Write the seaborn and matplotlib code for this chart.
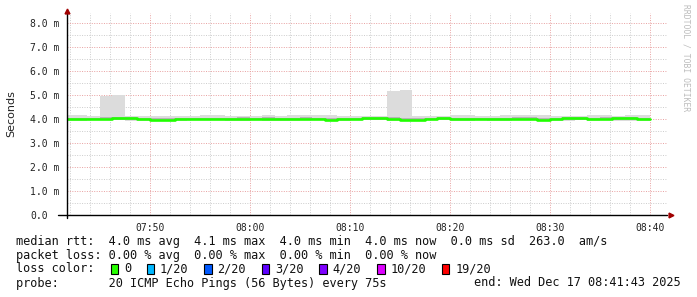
import matplotlib
matplotlib.use("Agg")
import matplotlib.pyplot as plt
import matplotlib.dates as mdates
from matplotlib.ticker import MultipleLocator
from matplotlib.patches import Rectangle
import seaborn as sns
import pandas as pd

# ---------------- data (ms, one value per 75 s step) ----------------
median_ms = [4.00, 4.00, 4.00, 4.01, 4.03, 4.03, 4.01, 3.97, 3.97, 4.00,
             4.00, 4.00, 4.01, 4.01, 4.02, 4.01, 4.02, 4.00, 4.01, 4.02,
             4.00, 3.98, 4.00, 4.01, 4.03, 4.03, 4.01, 3.97, 3.97, 4.00,
             4.03, 4.01, 4.00, 4.00, 3.99, 4.00, 4.02, 4.02, 3.97, 4.00,
             4.03, 4.03, 4.01, 4.02, 4.03, 4.03, 3.99]
smoke_hi = [4.16, 4.16, 4.12, 4.98, 5.02, 4.14, 4.14, 4.13, 4.13, 4.12,
            4.14, 4.16, 4.16, 4.14, 4.13, 4.14, 4.16, 4.14, 4.15, 4.18,
            4.18, 4.16, 4.14, 4.12, 4.14, 4.14, 5.18, 5.22, 4.14, 4.12,
            4.14, 4.16, 4.16, 4.14, 4.12, 4.15, 4.18, 4.18, 4.16, 4.12,
            4.14, 4.14, 4.16, 4.16, 4.14, 4.15, 4.15]
smoke_lo = [3.93, 3.93, 3.94, 3.95, 3.94, 3.91, 3.92, 3.93, 3.90, 3.91,
            3.94, 3.94, 3.95, 3.93, 3.92, 3.94, 3.93, 3.91, 3.91, 3.94,
            3.94, 3.93, 3.93, 3.94, 3.94, 3.94, 3.92, 3.91, 3.94, 3.94,
            3.94, 3.91, 3.92, 3.94, 3.93, 3.93, 3.94, 3.94, 3.92, 3.92,
            3.93, 3.94, 3.91, 3.94, 3.93, 3.91, 3.90]
q_hi = [4.06, 4.06, 4.05, 4.07, 4.08, 4.08, 4.06, 4.03, 4.03, 4.05,
        4.05, 4.05, 4.06, 4.06, 4.07, 4.06, 4.07, 4.05, 4.06, 4.07,
        4.05, 4.04, 4.05, 4.06, 4.08, 4.08, 4.07, 4.03, 4.03, 4.05,
        4.08, 4.06, 4.05, 4.05, 4.04, 4.05, 4.07, 4.07, 4.03, 4.05,
        4.08, 4.08, 4.06, 4.07, 4.08, 4.08, 4.05]
q_lo = [3.96, 3.96, 3.96, 3.97, 3.98, 3.97, 3.96, 3.93, 3.93, 3.95,
        3.96, 3.96, 3.97, 3.96, 3.97, 3.96, 3.97, 3.95, 3.96, 3.97,
        3.95, 3.94, 3.96, 3.96, 3.98, 3.98, 3.96, 3.93, 3.93, 3.95,
        3.98, 3.96, 3.95, 3.95, 3.94, 3.95, 3.97, 3.97, 3.93, 3.95,
        3.98, 3.98, 3.96, 3.97, 3.98, 3.98, 3.94]

first_step = "2025-12-17 07:41:15"
step_seconds = 75
view_start = "2025-12-17 07:41:43"
view_end = "2025-12-17 08:41:43"

x_tick_labels = ["07:50", "08:00", "08:10", "08:20", "08:30", "08:40"]
y_tick_values = [0, 1, 2, 3, 4, 5, 6, 7, 8]
y_tick_labels = ["0.0", "1.0 m", "2.0 m", "3.0 m", "4.0 m", "5.0 m",
                 "6.0 m", "7.0 m", "8.0 m"]

legend_lines = [
    "median rtt:  4.0 ms avg  4.1 ms max  4.0 ms min  4.0 ms now  0.0 ms sd  263.0  am/s",
    "packet loss: 0.00 % avg  0.00 % max  0.00 % min  0.00 % now",
]
loss_labels = ["0", "1/20", "2/20", "3/20", "4/20", "10/20", "19/20"]
loss_colors = ["#26ff00", "#00b8ff", "#0059ff", "#5e00ff", "#7e00ff", "#dd00ff", "#ff0000"]
probe_text = "probe:       20 ICMP Echo Pings (56 Bytes) every 75s"
end_text = "end: Wed Dec 17 08:41:43 2025"

# ---------------- figure ----------------
sns.set_style("white")
plt.rcParams["font.family"] = ["DejaVu Sans Mono"]

W, H = 697, 297
fig = plt.figure(figsize=(W / 100, H / 100), dpi=100)
fig.patch.set_facecolor("white")
ax = fig.add_axes([67 / W, (H - 215) / H, 600 / W, 202 / H])
ax.set_facecolor("white")

times = pd.date_range(first_step, periods=len(median_ms), freq=f"{step_seconds}s")
edges = times.append(pd.DatetimeIndex([times[-1] + pd.Timedelta(seconds=step_seconds)]))


def ext(a):
    return list(a) + [a[-1]]


ax.fill_between(edges, ext(smoke_lo), ext(smoke_hi), step="post", color="#dcdcdc", lw=0, zorder=2)
ax.fill_between(edges, ext(q_lo), ext(q_hi), step="post", color="#b5b5b5", lw=0, zorder=2.1)
df = pd.DataFrame({"time": edges, "median": ext(median_ms)})
sns.lineplot(data=df, x="time", y="median", drawstyle="steps-post", color="#20ff00",
             linewidth=1.9, ax=ax, estimator=None, zorder=3)

ax.set_xlim(pd.Timestamp(view_start), pd.Timestamp(view_end))
ax.set_ylim(0, 8.42)
ax.set_xlabel("")
ax.set_ylabel("")

day = first_step.split(" ")[0]
x_tick_times = [pd.Timestamp(f"{day} {t}") for t in x_tick_labels]
ax.set_xticks(x_tick_times, x_tick_labels)
ax.xaxis.set_minor_locator(mdates.MinuteLocator(byminute=range(0, 60, 2)))
ax.set_yticks(y_tick_values, y_tick_labels)
ax.yaxis.set_minor_locator(MultipleLocator(0.5))

ax.grid(which="minor", color="#cccccc", linestyle=(0, (1, 1.5)), linewidth=0.7)
ax.grid(which="major", color="#e8a0a0", linestyle=(0, (1, 1.5)), linewidth=0.7)
ax.set_axisbelow(True)

for s in ax.spines.values():
    s.set_visible(False)

ax.tick_params(axis="x", which="both", length=2, width=0.6, color="#666666",
               pad=3.5, labelsize=7, direction="out")
ax.tick_params(axis="y", which="both", length=0, pad=26.6, labelsize=7)
for lab in ax.get_yticklabels():
    lab.set_horizontalalignment("left")
for lab in ax.get_xticklabels() + ax.get_yticklabels():
    lab.set_color("#222222")

# axis lines and arrows
ax.plot([-0.015, 1.0], [0, 0], transform=ax.transAxes, color="black", lw=1.0, clip_on=False, zorder=5)
ax.plot([0, 0], [-0.015, 1.0], transform=ax.transAxes, color="black", lw=1.0, clip_on=False, zorder=5)
ax.plot([1.006], [0], marker=">", ms=3.5, color="#a00000", transform=ax.transAxes, clip_on=False, zorder=6)
ax.plot([0], [1.012], marker="^", ms=3.5, color="#a00000", transform=ax.transAxes, clip_on=False, zorder=6)

fig.text(11 / W, 1 - 114 / H, "Seconds", rotation=90, ha="center", va="center",
         fontsize=8, family="DejaVu Sans", color="#222222")
fig.text(686 / W, 1 - 4 / H, "RRDTOOL / TOBI OETIKER", rotation=270, ha="center", va="top",
         fontsize=5.8, color="#bcbcbc")

# ---------------- legend text ----------------
fs = 8.6
cw = 7.2  # px per character
x0 = 16
rows_y = [241, 255, 269, 283]
for y, line in zip(rows_y[:2], legend_lines):
    fig.text(x0 / W, 1 - y / H, line, ha="left", va="center", fontsize=fs, color="#111111")

fig.text(x0 / W, 1 - rows_y[2] / H, "loss color:", ha="left", va="center", fontsize=fs, color="#111111")
col = 13
for lab, c in zip(loss_labels, loss_colors):
    bx = x0 + col * cw + 1
    fig.add_artist(Rectangle((bx / W, 1 - (rows_y[2] + 5) / H), 7.5 / W, 10 / H,
                             transform=fig.transFigure, facecolor=c, edgecolor="black", lw=0.8))
    fig.text((x0 + (col + 2) * cw) / W, 1 - rows_y[2] / H, lab, ha="left", va="center",
             fontsize=fs, color="#111111")
    col += 2 + len(lab) + 2

fig.text(x0 / W, 1 - rows_y[3] / H, probe_text, ha="left", va="center", fontsize=fs, color="#111111")
fig.text(681 / W, 1 - rows_y[3] / H, end_text, ha="right", va="center", fontsize=fs, color="#111111")

fig.savefig("out.png", dpi=100, facecolor="white")
